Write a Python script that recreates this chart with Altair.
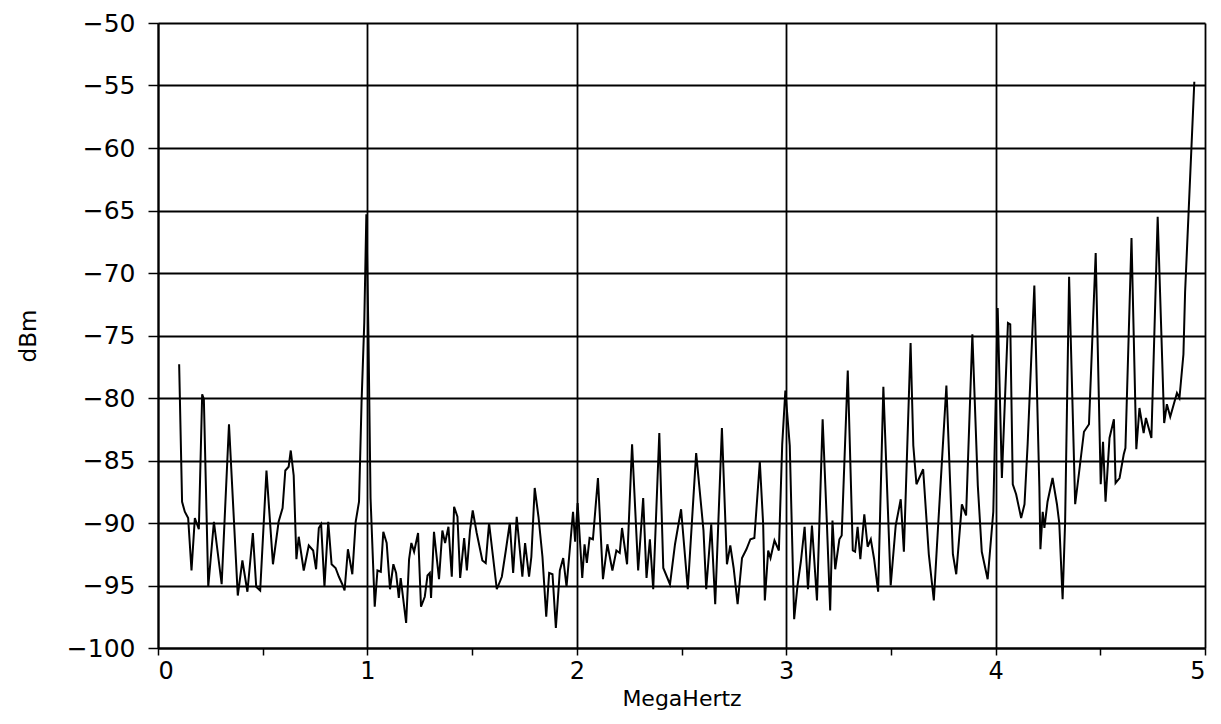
import altair as alt
import pandas as pd

# Spectrum trace (MHz, dBm)
freq_mhz = [
    0.101, 0.115, 0.128, 0.144, 0.160, 0.176, 0.195, 0.211, 0.219, 0.240,
    0.267, 0.304, 0.339, 0.381, 0.403, 0.427, 0.453, 0.469, 0.488, 0.518,
    0.549, 0.576, 0.595, 0.608, 0.624, 0.634, 0.648, 0.661, 0.672, 0.696,
    0.720, 0.741, 0.755, 0.768, 0.779, 0.795, 0.813, 0.829, 0.848, 0.864,
    0.880, 0.891, 0.907, 0.928, 0.944, 0.960, 0.972, 0.985, 0.995, 1.005,
    1.015, 1.035, 1.048, 1.064, 1.076, 1.092, 1.108, 1.124, 1.137, 1.150,
    1.159, 1.185, 1.199, 1.210, 1.223, 1.242, 1.256, 1.274, 1.287, 1.298,
    1.304, 1.318, 1.342, 1.358, 1.371, 1.387, 1.403, 1.414, 1.430, 1.443,
    1.462, 1.475, 1.490, 1.503, 1.522, 1.549, 1.565, 1.581, 1.618, 1.642,
    1.661, 1.680, 1.696, 1.713, 1.740, 1.753, 1.772, 1.783, 1.799, 1.817,
    1.836, 1.854, 1.868, 1.884, 1.900, 1.919, 1.935, 1.951, 1.982, 1.992,
    2.004, 2.026, 2.037, 2.048, 2.061, 2.077, 2.101, 2.125, 2.146, 2.170,
    2.189, 2.205, 2.216, 2.240, 2.264, 2.293, 2.317, 2.333, 2.349, 2.365,
    2.394, 2.413, 2.445, 2.469, 2.498, 2.530, 2.570, 2.605, 2.618, 2.642,
    2.661, 2.693, 2.717, 2.733, 2.749, 2.768, 2.789, 2.810, 2.829, 2.848,
    2.874, 2.890, 2.898, 2.914, 2.925, 2.944, 2.965, 2.981, 2.996, 3.017,
    3.038, 3.054, 3.070, 3.088, 3.104, 3.123, 3.147, 3.174, 3.194, 3.210,
    3.221, 3.234, 3.254, 3.265, 3.294, 3.318, 3.329, 3.341, 3.354, 3.373,
    3.389, 3.404, 3.420, 3.439, 3.464, 3.499, 3.523, 3.547, 3.562, 3.594,
    3.607, 3.622, 3.654, 3.681, 3.705, 3.720, 3.765, 3.796, 3.812, 3.839,
    3.859, 3.889, 3.915, 3.934, 3.962, 3.989, 4.010, 4.030, 4.059, 4.070,
    4.082, 4.098, 4.122, 4.138, 4.153, 4.185, 4.209, 4.214, 4.225, 4.233,
    4.248, 4.272, 4.293, 4.304, 4.320, 4.332, 4.351, 4.380, 4.399, 4.422,
    4.446, 4.478, 4.502, 4.513, 4.525, 4.544, 4.565, 4.573, 4.592, 4.612,
    4.620, 4.649, 4.672, 4.687, 4.707, 4.718, 4.744, 4.774, 4.805, 4.818,
    4.834, 4.866, 4.878, 4.897, 4.905, 4.949,
]
level_dbm = [
    -77.3, -88.3, -89.1, -89.6, -93.8, -89.6, -90.5, -79.7, -80.1, -95.1,
    -89.9, -94.9, -82.1, -95.8, -93.0, -95.5, -90.8, -95.1, -95.4, -85.8,
    -93.3, -89.9, -88.8, -85.8, -85.5, -84.2, -86.2, -92.9, -91.1, -93.8,
    -91.8, -92.2, -93.7, -90.4, -90.1, -95.1, -89.9, -93.3, -93.6, -94.3,
    -94.9, -95.4, -92.1, -94.1, -89.9, -88.3, -80.4, -74.0, -65.3, -75.0,
    -88.0, -96.7, -93.8, -93.9, -90.7, -91.6, -95.3, -93.3, -94.0, -96.0,
    -94.4, -98.0, -92.9, -91.6, -92.3, -90.8, -96.7, -95.9, -94.2, -94.0,
    -96.0, -90.7, -94.5, -90.6, -91.6, -90.3, -94.3, -88.7, -89.5, -94.4,
    -91.2, -93.8, -90.6, -89.0, -90.8, -93.0, -93.2, -90.0, -95.3, -94.3,
    -92.2, -90.0, -94.0, -89.5, -94.3, -91.6, -94.3, -92.7, -87.2, -89.5,
    -92.7, -97.5, -94.0, -94.1, -98.4, -93.8, -92.8, -95.1, -89.1, -91.5,
    -88.4, -94.4, -91.7, -93.2, -91.2, -91.3, -86.4, -94.5, -91.7, -93.8,
    -92.2, -92.4, -90.4, -93.3, -83.7, -93.8, -88.0, -94.4, -91.3, -95.3,
    -82.8, -93.6, -94.9, -91.7, -88.9, -95.3, -84.4, -90.6, -95.3, -90.1,
    -96.5, -82.4, -93.3, -91.8, -93.6, -96.5, -92.8, -92.1, -91.3, -91.2,
    -85.1, -90.1, -96.2, -92.2, -92.8, -91.4, -92.2, -83.7, -79.4, -83.8,
    -97.7, -95.0, -93.1, -90.3, -95.3, -90.2, -96.2, -81.7, -89.9, -97.0,
    -89.8, -93.7, -91.3, -91.0, -77.8, -92.2, -92.3, -90.3, -92.9, -89.3,
    -91.9, -91.3, -92.9, -95.5, -79.1, -95.0, -90.2, -88.1, -92.3, -75.6,
    -83.8, -86.9, -85.7, -92.5, -96.2, -91.8, -79.0, -92.5, -94.1, -88.5,
    -89.4, -74.9, -87.0, -92.3, -94.5, -89.1, -72.8, -86.4, -74.0, -74.1,
    -86.9, -87.7, -89.6, -88.5, -83.7, -71.0, -87.1, -92.1, -89.1, -90.4,
    -88.3, -86.4, -88.5, -90.0, -96.1, -89.9, -70.3, -88.5, -85.9, -82.7,
    -82.1, -68.4, -86.9, -83.5, -88.3, -83.2, -81.7, -86.8, -86.4, -84.5,
    -84.0, -67.2, -84.1, -80.8, -82.8, -81.6, -83.2, -65.5, -82.0, -80.5,
    -81.5, -79.6, -80.0, -76.5, -71.5, -54.7,
]

x_tick_values = [0, 0.5, 1, 1.5, 2, 2.5, 3, 3.5, 4, 4.5, 5]
y_tick_values = [-100, -95, -90, -85, -80, -75, -70, -65, -60, -55, -50]

df = pd.DataFrame({"MHz": freq_mhz, "dBm": level_dbm})

FONT = "DejaVu Sans"

x_enc = alt.X(
    "MHz:Q",
    scale=alt.Scale(domain=[0, 5], nice=False, zero=False),
    axis=alt.Axis(
        title="MegaHertz",
        values=x_tick_values,
        labelExpr="datum.value % 1 === 0 ? format(datum.value, 'd') : ''",
        grid=True,
        gridColor="black",
        gridWidth=1.8,
        gridOpacity={"condition": {"test": "datum.value % 1 === 0", "value": 1}, "value": 0},
        domainColor="black",
        domainWidth=2,
        tickColor="black",
        tickWidth=1.5,
        tickSize=7,
        labelPadding=4,
        labelFont=FONT,
        labelFontSize=24,
        labelColor="black",
        titleFont=FONT,
        titleFontSize=22,
        titleFontWeight="normal",
        titleColor="black",
        titlePadding=5,
    ),
)

y_enc = alt.Y(
    "dBm:Q",
    scale=alt.Scale(domain=[-100, -50], nice=False, zero=False),
    axis=alt.Axis(
        title="dBm",
        values=y_tick_values,
        grid=True,
        gridColor="black",
        gridWidth=1.8,
        domainColor="black",
        domainWidth=2,
        tickColor="black",
        tickWidth=1.5,
        tickSize=10,
        labelPadding=13,
        labelFont=FONT,
        labelFontSize=25,
        labelColor="black",
        titleFont=FONT,
        titleFontSize=23,
        titleFontWeight="normal",
        titleColor="black",
        titlePadding=26,
    ),
)

chart = (
    alt.Chart(df)
    .mark_line(color="black", strokeWidth=2, clip=True)
    .encode(x=x_enc, y=y_enc, order="MHz:Q")
    .properties(
        width=1047,
        height=625,
        autosize=alt.AutoSizeParams(type="none"),
        padding={"left": 150, "top": 15, "right": 8, "bottom": 66},
    )
    .configure_view(stroke="black", strokeWidth=2)
    .configure(background="white")
)

chart.save("out.html", embed_options={"renderer": "svg", "actions": False})
